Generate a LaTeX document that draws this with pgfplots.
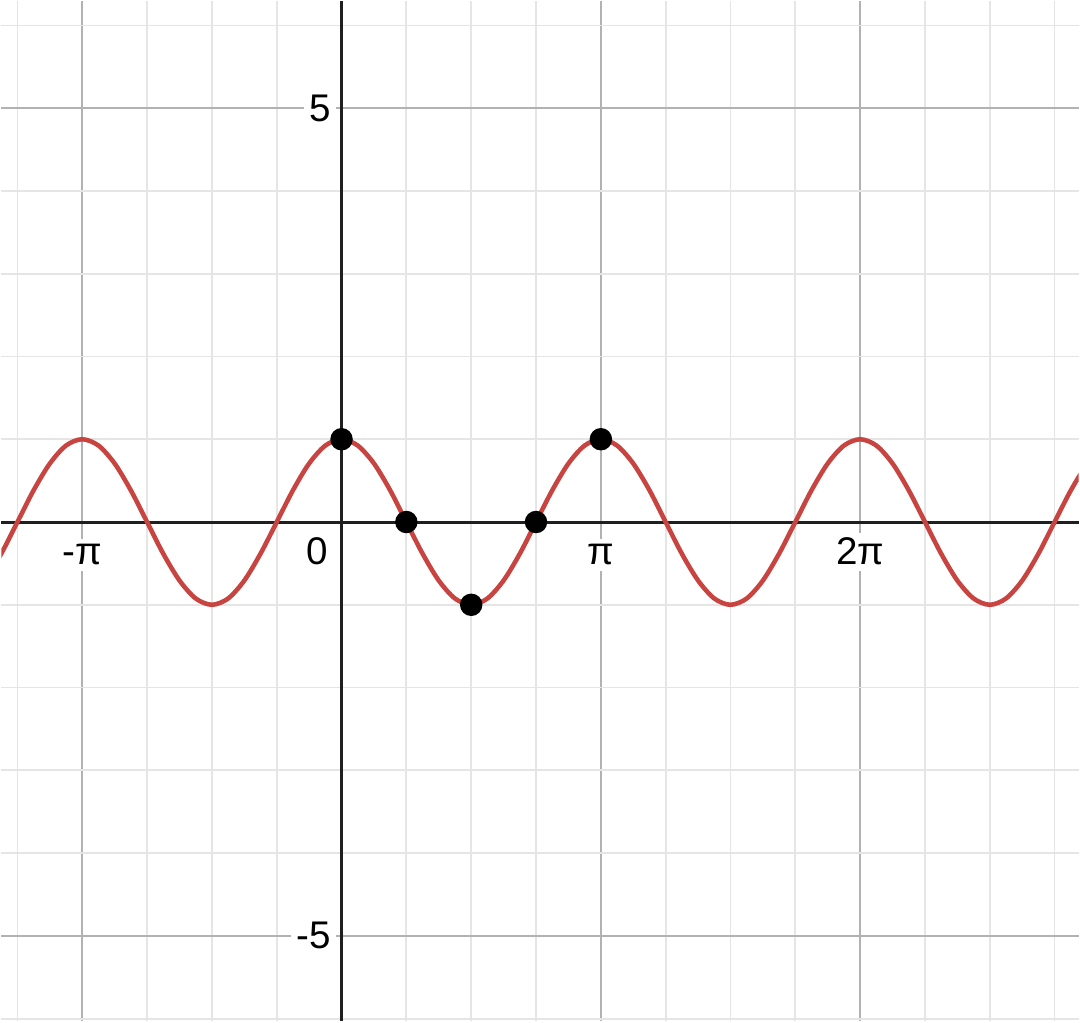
\documentclass[border=0pt]{standalone}
\usepackage{fontspec}
\setmainfont{Liberation Sans}
\usepackage{pgfplots}
\pgfplotsset{compat=1.18}
\definecolor{curvered}{HTML}{C74440}
\begin{document}
\begin{tikzpicture}
\begin{axis}[
  scale only axis,
  width=10.8cm, height=10.22cm,
  xmin=-4.120, xmax=8.929,
  ymin=-6.024, ymax=6.289,
  axis lines=middle,
  axis line style={-, line width=0.85pt, black!88},
  xtick={-3.14159,3.14159,6.28319},
  xticklabels={-π,π,2π},
  minor xtick={-3.927,-2.356,-1.571,-0.785,0.785,1.571,2.356,3.927,4.712,5.498,7.069,7.854,8.639},
  ytick={-5,5},
  yticklabels={-5,5},
  minor ytick={-6,-4,-3,-2,-1,1,2,3,4,6},
  major tick length=0pt, minor tick length=0pt,
  grid=both,
  major grid style={line width=0.6pt, black!30},
  minor grid style={line width=0.5pt, black!10},
  tick label style={font=\fontsize{11}{13}\selectfont, fill=white, inner sep=1.5pt},
  xticklabel style={anchor=base, yshift=-0.43cm},
  yticklabel style={anchor=east, xshift=-0.05cm},
  clip=true,
]
\addplot[curvered, line width=1.3pt, smooth] coordinates {
(-4.320,-0.707) (-4.123,-0.383) (-3.927,0) (-3.731,0.383) (-3.534,0.707) (-3.338,0.924)
(-3.142,1) (-2.945,0.924) (-2.749,0.707) (-2.553,0.383) (-2.356,0) (-2.160,-0.383)
(-1.963,-0.707) (-1.767,-0.924) (-1.571,-1) (-1.374,-0.924) (-1.178,-0.707) (-0.982,-0.383)
(-0.785,0) (-0.589,0.383) (-0.393,0.707) (-0.196,0.924) (0,1) (0.196,0.924)
(0.393,0.707) (0.589,0.383) (0.785,0) (0.982,-0.383) (1.178,-0.707) (1.374,-0.924)
(1.571,-1) (1.767,-0.924) (1.963,-0.707) (2.160,-0.383) (2.356,0) (2.553,0.383)
(2.749,0.707) (2.945,0.924) (3.142,1) (3.338,0.924) (3.534,0.707) (3.731,0.383)
(3.927,0) (4.123,-0.383) (4.320,-0.707) (4.516,-0.924) (4.712,-1) (4.909,-0.924)
(5.105,-0.707) (5.301,-0.383) (5.498,0) (5.694,0.383) (5.890,0.707) (6.087,0.924)
(6.283,1) (6.480,0.924) (6.676,0.707) (6.872,0.383) (7.069,0) (7.265,-0.383)
(7.461,-0.707) (7.658,-0.924) (7.854,-1) (8.050,-0.924) (8.247,-0.707) (8.443,-0.383)
(8.639,0) (8.836,0.383) (9.032,0.707)
};
\addplot[only marks, mark=*, mark size=3pt, black] coordinates {
(0,1) (0.785,0) (1.571,-1) (2.356,0) (3.142,1)
};
\node[font=\fontsize{11}{13}\selectfont, anchor=base east, inner sep=0pt, xshift=-0.13cm, yshift=-0.43cm] at (axis cs:0,0) {0};
\end{axis}
\end{tikzpicture}
\end{document}
